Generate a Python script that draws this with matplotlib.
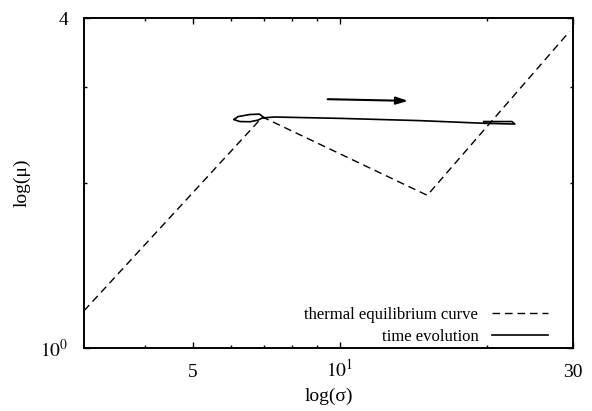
import numpy as np
import matplotlib
matplotlib.use("Agg")
import matplotlib.pyplot as plt
from matplotlib.ticker import FixedLocator, FixedFormatter, NullFormatter

plt.rcParams['font.family'] = ['Liberation Serif', 'DejaVu Serif']
plt.rcParams['mathtext.fontset'] = 'stix'

# thermal equilibrium curve (sigma, mu)
eq_sigma = [3.0, 6.95, 15.1, 29.5]
eq_mu = [1.17, 2.64, 1.90, 3.78]

# time evolution track (small loop near the peak, then drift to the right)
ev_sigma = [7.02, 6.85, 6.55, 6.20, 6.07, 6.25, 6.55, 6.80, 6.95, 7.36, 10.0, 14.6, 20.0, 22.8, 22.5, 19.7]
ev_mu = [2.629, 2.672, 2.668, 2.645, 2.612, 2.590, 2.588, 2.605, 2.630, 2.640, 2.625, 2.600, 2.570, 2.563, 2.590, 2.590]

# direction arrow
arrow_start = (9.45, 2.845)
arrow_end = (13.8, 2.825)

xticks = [5, 10, 30]
xticklabels = ['5', r'$10^1$', '30']
xminor = [4, 6, 7, 8, 9, 20]
yticks = [1, 4]
yticklabels = [r'$10^0$', '4']
yminor = [2, 3]

fig = plt.figure(figsize=(5.92, 4.11), dpi=100)
ax = fig.add_axes([0.142, 0.153, 0.826, 0.803])

ax.plot(eq_sigma, eq_mu, color='black', lw=1.0, dashes=(5.5, 3.5),
        label='thermal equilibrium curve')
ax.plot(ev_sigma, ev_mu, color='black', lw=1.2, label='time evolution')
ax.annotate('', xy=arrow_end, xytext=arrow_start,
            arrowprops=dict(arrowstyle='-|>,head_length=0.7,head_width=0.22',
                            color='black', lw=1.5, shrinkA=0, shrinkB=0))

ax.set_xscale('log')
ax.set_yscale('log')
ax.set_xlim(3, 30)
ax.set_ylim(1, 4)

ax.xaxis.set_major_locator(FixedLocator(xticks))
ax.xaxis.set_major_formatter(FixedFormatter(xticklabels))
ax.xaxis.set_minor_locator(FixedLocator(xminor))
ax.xaxis.set_minor_formatter(NullFormatter())
ax.yaxis.set_major_locator(FixedLocator(yticks))
ax.yaxis.set_major_formatter(FixedFormatter(yticklabels))
ax.yaxis.set_minor_locator(FixedLocator(yminor))
ax.yaxis.set_minor_formatter(NullFormatter())

ax.tick_params(which='both', direction='in', top=True, right=True, width=1)
ax.tick_params(which='major', length=4)
ax.tick_params(which='minor', length=2.5)
ax.tick_params(axis='x', which='major', labelsize=14, pad=20.5)
ax.tick_params(axis='y', which='major', labelsize=14, pad=11)
# line the x labels up on their baseline so the superscript sticks up
plt.setp(ax.get_xticklabels(), va='baseline')
for s in ax.spines.values():
    s.set_linewidth(1.4)

ax.set_xlabel('log(σ)', fontsize=14, labelpad=5)
ax.set_ylabel('log(μ)', fontsize=14, labelpad=7)

leg = ax.legend(loc='lower right', bbox_to_anchor=(0.963, -0.01),
                frameon=False, markerfirst=False,
                fontsize=12, handlelength=3.4, handletextpad=0.8,
                labelspacing=0.35, borderaxespad=0)

fig.savefig('out.png', dpi=100)
